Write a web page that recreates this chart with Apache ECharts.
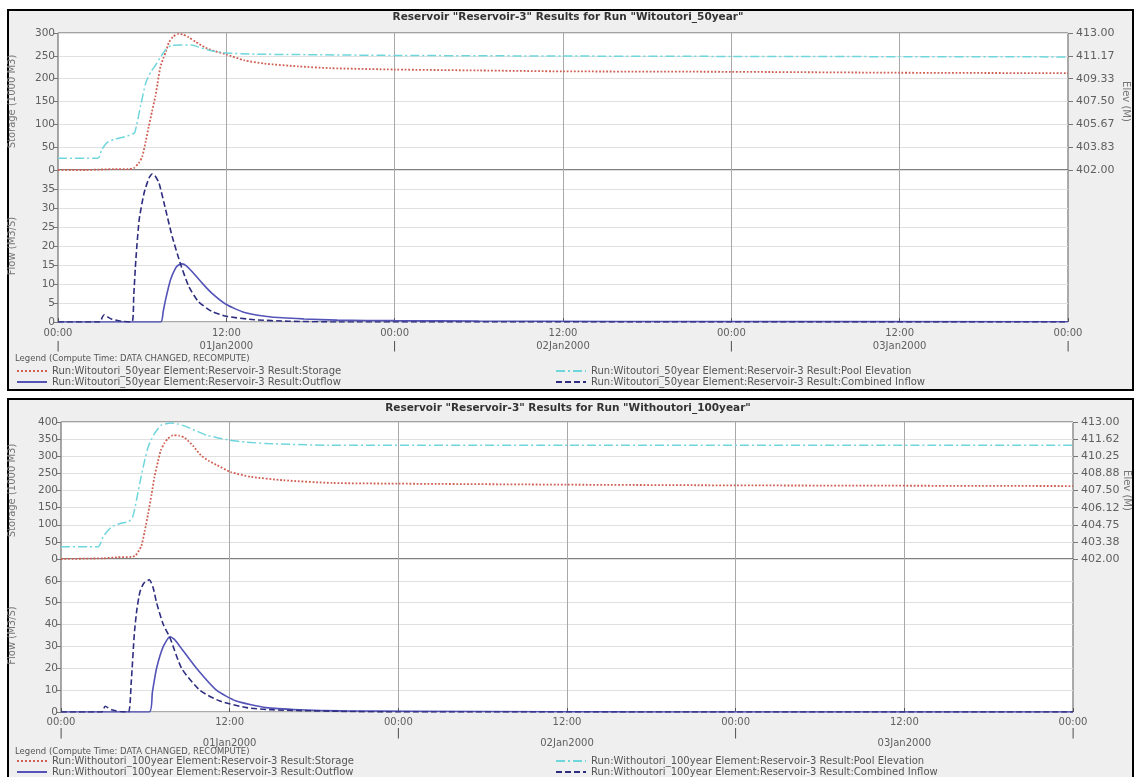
<!DOCTYPE html>
<html><head><meta charset="utf-8">
<script src="https://cdn.jsdelivr.net/npm/echarts@6/dist/echarts.min.js"></script>
<style>html,body{margin:0;padding:0;background:#fff}#c{width:1136px;height:777px}</style>
</head><body><div id="c"></div>
<script>
// ---- data ----
const hourTicks = [0, 12, 24, 36, 48, 60, 72];
const timeLabels = ['00:00', '12:00', '00:00', '12:00', '00:00', '12:00', '00:00'];
const dateLabels = ['', '01Jan2000', '', '02Jan2000', '', '03Jan2000', ''];
const elevLabels50 = ['402.00', '403.83', '405.67', '407.50', '409.33', '411.17', '413.00'];
const elevLabels100 = ['402.00', '403.38', '404.75', '406.12', '407.50', '408.88', '410.25', '411.62', '413.00'];

const title50 = 'Reservoir "Reservoir-3" Results for Run "Witoutori_50year"';
const title100 = 'Reservoir "Reservoir-3" Results for Run "Withoutori_100year"';
const legendHeader = 'Legend (Compute Time: DATA CHANGED, RECOMPUTE)';
const run50 = 'Run:Witoutori_50year Element:Reservoir-3 Result:';
const run100 = 'Run:Withoutori_100year Element:Reservoir-3 Result:';

// [hour, storage 1000 m3]
const storage50 = [[0,0],[2,0],[3,1],[4,2],[5,2],[5.4,4],[5.75,15],[6.0,29],[6.25,62],[6.47,95],[6.7,128],[6.94,161],[7.1,190],[7.3,226],[7.5,244],[7.7,260],[7.9,279],[8.2,292],[8.6,298],[8.9,297],[9.3,291],[9.8,281],[10.5,268],[11.2,260],[12,253],[13.3,240],[14.7,233],[17.1,227],[19.4,223],[24,220],[30,218],[36,216],[48,215],[60,213],[72,212]];
// [hour, elevation m]
const elev50 = [[0,402.94],[2.85,402.94],[3.1,403.6],[3.5,404.2],[4.0,404.45],[4.8,404.68],[5.45,404.98],[5.6,405.6],[5.9,407.2],[6.25,408.97],[6.6,409.85],[6.96,410.43],[7.3,411.05],[7.67,411.65],[8.1,412.02],[9.5,412.03],[10.2,411.8],[11,411.55],[12,411.4],[14,411.3],[17,411.27],[24,411.2],[36,411.15],[48,411.12],[72,411.08]];
// [hour, flow m3/s]
const outflow50 = [[0,0],[7.32,0],[7.5,2.8],[7.67,5.9],[8.02,11.1],[8.38,14.2],[8.6,15.0],[8.85,15.3],[9.15,14.8],[9.55,13.3],[10.26,10.3],[10.96,7.6],[12,4.6],[13.3,2.5],[15.2,1.3],[17.55,0.8],[19.9,0.5],[24,0.35],[30,0.25],[40,0.15],[72,0.05]];
const inflow50 = [[0,0],[3.0,0],[3.15,1.2],[3.3,1.9],[3.55,1.3],[3.8,0.8],[4.5,0.2],[5.27,0],[5.4,7],[5.55,16.4],[5.79,27],[6.14,34],[6.49,37.9],[6.73,39],[6.95,38.3],[7.2,36.6],[7.67,29.6],[8.14,22.5],[8.73,15.3],[9.32,9.4],[10.0,5.4],[10.96,2.8],[12,1.5],[14,0.6],[16.4,0.2],[20,0],[72,0]];

const storage100 = [[0,0],[3,2],[4,5],[5,6],[5.3,10],[5.7,36],[5.95,80],[6.2,133],[6.45,190],[6.65,240],[6.9,285],[7.1,317],[7.35,338],[7.6,351],[7.95,361],[8.4,360],[8.8,354],[9.4,330],[9.95,303],[10.5,287],[11.1,274],[12.07,254],[13.5,240],[15.8,230],[19.3,222],[24,220],[36,217],[48,215],[72,213]];
const elev100 = [[0,402.99],[2.65,402.99],[3.0,403.8],[3.6,404.58],[4.2,404.85],[4.8,405.0],[5.1,405.38],[5.4,406.9],[5.7,408.6],[5.95,409.9],[6.2,410.99],[6.45,411.65],[6.65,412.07],[7.1,412.72],[7.8,412.92],[8.3,412.85],[9,412.59],[9.7,412.25],[10.4,411.93],[12,411.54],[13.2,411.38],[14.7,411.27],[19,411.13],[36,411.13],[72,411.13]];
const outflow100 = [[0,0],[6.28,0],[6.5,9],[6.8,20],[7.28,30],[7.75,34.4],[8.1,33],[8.46,30],[9.64,20],[11.06,10],[12.47,5],[14.6,2],[17,1],[20,0.5],[30,0.2],[40,0.05],[72,0]];
const inflow100 = [[0,0],[2.9,0],[3.14,2.6],[3.6,1],[4.2,0.2],[4.8,0],[5.0,14],[5.22,36],[5.4,47],[5.62,55],[5.9,59],[6.28,60.5],[6.55,57],[6.8,50],[7.28,40],[7.75,34],[8.58,20],[9.87,10],[11.3,5],[13.2,2],[15,1],[20,0.3],[24,0],[72,0]];

// ---- styles ----
const FONT = 'DejaVu Sans';
const C_STOR = '#cf5f52', C_ELEV = '#6fd6dc', C_OUT = '#5353b8', C_IN = '#2e2e80';
const lblColor = '#606060';

function xLabelFmt1(v) {
  const i = hourTicks.indexOf(v);
  if (i < 0) return '';
  return '{t|' + timeLabels[i] + '}\n' + (dateLabels[i] ? '{d|' + dateLabels[i] + '}' : '{b||}');
}
function xLabelFmt2(v) {
  const i = hourTicks.indexOf(v);
  if (i < 0) return '';
  return '{t|' + timeLabels[i] + '}\n' + (dateLabels[i] ? '{e| }\n{d|' + dateLabels[i] + '}' : '{b||}\n{e| }');
}
function xAxis(gi, fmt, lh) {
  const a = {
    type: 'value', gridIndex: gi, min: 0, max: 72, interval: 12,
    axisLine: { show: false },
    splitLine: { show: true, lineStyle: { color: '#a8a8a8', width: 1 } }
  };
  if (!fmt) {
    a.axisLabel = { show: false };
    a.axisTick = { show: false };
  } else {
    a.axisTick = { show: true, inside: true, length: 4, lineStyle: { color: '#555' } };
    a.axisLabel = {
      show: true, formatter: fmt, margin: 5, showMinLabel: true, showMaxLabel: true, hideOverlap: false,
      rich: {
        t: { fontFamily: FONT, fontSize: 10, color: lblColor, lineHeight: lh },
        d: { fontFamily: FONT, fontSize: 10, color: lblColor, lineHeight: lh },
        e: { fontFamily: FONT, fontSize: 10, lineHeight: lh },
        b: { fontFamily: FONT, fontSize: 11, color: '#444', lineHeight: lh }
      }
    };
  }
  return a;
}
function leftAxis(gi, max, interval, name, gap, hideMax) {
  return {
    type: 'value', gridIndex: gi, position: 'left', min: 0, max: max, interval: interval,
    name: name, nameLocation: 'middle', nameGap: gap, nameMoveOverlap: false,
    nameTextStyle: { fontFamily: FONT, fontSize: 10, color: '#777' },
    axisLine: { show: false },
    axisTick: { show: true, length: 4, lineStyle: { color: '#777' } },
    axisLabel: { fontFamily: FONT, fontSize: 10.5, color: lblColor, margin: 3, showMaxLabel: !hideMax },
    splitLine: { show: true, lineStyle: { color: '#e0e0e0' } }
  };
}
function rightAxis(gi, labels, gap) {
  const vals = labels.map(Number);
  return {
    type: 'value', gridIndex: gi, position: 'right', min: 402, max: 413,
    name: 'Elev (M)', nameLocation: 'middle', nameGap: gap, nameRotate: -90, nameMoveOverlap: false,
    nameTextStyle: { fontFamily: FONT, fontSize: 10, color: '#777' },
    axisLine: { show: false },
    axisTick: { show: true, length: 5, customValues: vals, lineStyle: { color: '#777' } },
    axisLabel: { fontFamily: FONT, fontSize: 11, color: lblColor, margin: 8, customValues: vals,
      formatter: v => Number(v).toFixed(2) },
    splitLine: { show: false }
  };
}
function line(name, data, xi, yi, color, type, width) {
  return {
    name: name, type: 'line', data: data, xAxisIndex: xi, yAxisIndex: yi,
    showSymbol: false, symbol: 'none', smooth: 0.2, animation: false,
    lineStyle: { color: color, type: type, width: width }, itemStyle: { color: color },
    emphasis: { disabled: true }
  };
}
function legend(left, top, name) {
  return {
    orient: 'horizontal', left: left, top: top, padding: 0,
    itemWidth: 30, itemHeight: 8, selectedMode: false, data: [name],
    itemStyle: { opacity: 0 },
    textStyle: { fontFamily: FONT, fontSize: 10, color: '#555' }
  };
}
const gridBase = { show: true, backgroundColor: '#ffffff', borderColor: '#555', borderWidth: 1, outerBoundsMode: 'none', containLabel: false };

const chart = echarts.init(document.getElementById('c'), null, { renderer: 'canvas' });
chart.setOption({
  animation: false,
  backgroundColor: '#ffffff',
  graphic: [
    { type: 'rect', z: -100, shape: { x: 8, y: 10, width: 1125, height: 380 }, style: { fill: '#efefef', stroke: '#000', lineWidth: 2 } },
    { type: 'rect', z: -100, shape: { x: 8, y: 399, width: 1125, height: 384 }, style: { fill: '#efefef', stroke: '#000', lineWidth: 2 } }
  ],
  title: [
    { text: title50, left: 'center', top: 12, padding: 0, textStyle: { fontFamily: FONT, fontSize: 10.5, fontWeight: 'bold', color: '#333' } },
    { text: title100, left: 'center', top: 403, padding: 0, textStyle: { fontFamily: FONT, fontSize: 10.5, fontWeight: 'bold', color: '#333' } },
    { text: legendHeader, left: 15, top: 354, padding: 0, textStyle: { fontFamily: FONT, fontSize: 8.5, fontWeight: 'normal', color: '#555' } },
    { text: legendHeader, left: 15, top: 747, padding: 0, textStyle: { fontFamily: FONT, fontSize: 8.5, fontWeight: 'normal', color: '#555' } }
  ],
  legend: [
    legend(16, 366, run50 + 'Storage'),
    legend(16, 377, run50 + 'Outflow'),
    legend(555, 366, run50 + 'Pool Elevation'),
    legend(555, 377, run50 + 'Combined Inflow'),
    legend(16, 756, run100 + 'Storage'),
    legend(16, 767, run100 + 'Outflow'),
    legend(555, 756, run100 + 'Pool Elevation'),
    legend(555, 767, run100 + 'Combined Inflow')
  ],
  grid: [
    Object.assign({ left: 58, top: 33, width: 1010, height: 137 }, gridBase),
    Object.assign({ left: 58, top: 170, width: 1010, height: 152 }, gridBase),
    Object.assign({ left: 61, top: 422, width: 1012, height: 137 }, gridBase),
    Object.assign({ left: 61, top: 559, width: 1012, height: 153 }, gridBase)
  ],
  xAxis: [
    xAxis(0, null),
    xAxis(1, xLabelFmt1, 13),
    xAxis(2, null),
    xAxis(3, xLabelFmt2, 10.5)
  ],
  yAxis: [
    leftAxis(0, 300, 50, 'Storage (1000 M3)', 41, false),
    rightAxis(0, elevLabels50, 53),
    leftAxis(1, 40, 5, 'Flow (M3/S)', 41, true),
    leftAxis(2, 400, 50, 'Storage (1000 M3)', 44, false),
    rightAxis(2, elevLabels100, 49),
    leftAxis(3, 70, 10, 'Flow (M3/S)', 44, true)
  ],
  series: [
    line(run50 + 'Storage', storage50, 0, 0, C_STOR, 'dotted', 1.8),
    line(run50 + 'Pool Elevation', elev50, 0, 1, C_ELEV, [9, 3, 2, 3], 1.5),
    line(run50 + 'Outflow', outflow50, 1, 2, C_OUT, 'solid', 1.6),
    line(run50 + 'Combined Inflow', inflow50, 1, 2, C_IN, [6, 3], 1.6),
    line(run100 + 'Storage', storage100, 2, 3, C_STOR, 'dotted', 1.8),
    line(run100 + 'Pool Elevation', elev100, 2, 4, C_ELEV, [9, 3, 2, 3], 1.5),
    line(run100 + 'Outflow', outflow100, 3, 5, C_OUT, 'solid', 1.6),
    line(run100 + 'Combined Inflow', inflow100, 3, 5, C_IN, [6, 3], 1.6)
  ]
});
</script>
</body></html>
